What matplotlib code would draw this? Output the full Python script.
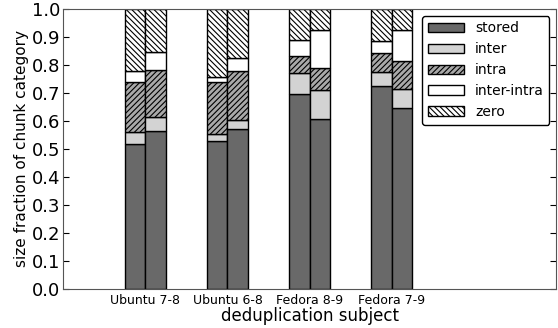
import matplotlib
matplotlib.use("Agg")
import matplotlib.pyplot as plt
import numpy as np

subjects = ["Ubuntu 7-8", "Ubuntu 6-8", "Fedora 8-9", "Fedora 7-9"]
categories = ["stored", "inter", "intra", "inter-intra", "zero"]

# cumulative tops, two bars per subject (left, right)
stored_l = [0.518, 0.527, 0.695, 0.725]
inter_l = [0.560, 0.551, 0.770, 0.776]
intra_l = [0.738, 0.738, 0.832, 0.842]
ii_l = [0.777, 0.758, 0.889, 0.886]

stored_r = [0.564, 0.570, 0.606, 0.646]
inter_r = [0.615, 0.604, 0.711, 0.714]
intra_r = [0.780, 0.779, 0.789, 0.814]
ii_r = [0.845, 0.824, 0.925, 0.925]

colors = ["#696969", "#d3d3d3", "#a9a9a9", "white", "white"]
hatches = [None, None, "//////", None, "\\\\\\\\\\\\"]

plt.rcParams['hatch.linewidth'] = 0.8
fig = plt.figure(figsize=(5.58, 3.28), dpi=100)
ax = fig.add_axes([0.113, 0.120, 0.884, 0.853])

x = np.arange(1, len(subjects) + 1)
w = 0.25

def draw(xpos, tops, label):
    bottoms = np.zeros(len(subjects))
    for i, cat in enumerate(categories):
        top = np.array(tops[i]) if i < 4 else np.ones(len(subjects))
        ax.bar(xpos, top - bottoms, w, bottom=bottoms, align="edge",
               color=colors[i], edgecolor="black", linewidth=1.0,
               hatch=hatches[i], label=cat if label else None)
        bottoms = top

draw(x - w, [stored_l, inter_l, intra_l, ii_l], True)
draw(x, [stored_r, inter_r, intra_r, ii_r], False)

ax.set_xlim(0, 6)
ax.set_ylim(0, 1.0)
yt = np.arange(0, 1.01, 0.1)
ax.set_yticks(yt)
ax.set_yticklabels([f"{v:.1f}" for v in yt], fontsize=13)
ax.set_xticks(x)
ax.set_xticklabels(subjects, fontsize=9)
ax.tick_params(axis='x', length=0)
ax.tick_params(axis='y', direction='in', right=True, length=4, pad=2)
ax.set_xlabel("deduplication subject", fontsize=12, labelpad=0)
ax.set_ylabel("size fraction of chunk category", fontsize=11, labelpad=2)
for s in ax.spines.values():
    s.set_color("#555555")
ax.legend(loc="upper right", fontsize=10, fancybox=True,
          framealpha=1, edgecolor="black", handlelength=2.6,
          borderaxespad=0.5)
fig.savefig("out.png", dpi=100)
